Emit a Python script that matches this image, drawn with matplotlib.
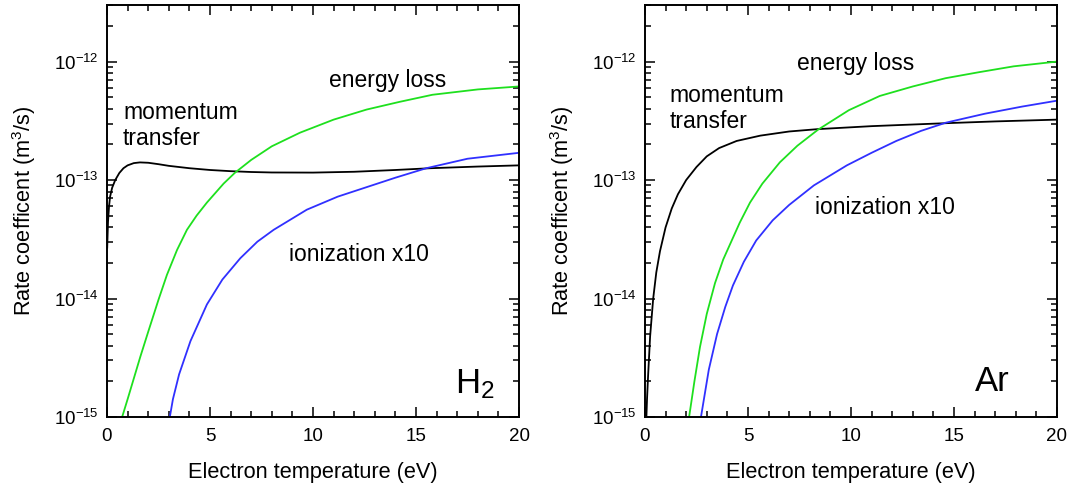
import numpy as np
import matplotlib
matplotlib.use("Agg")
import matplotlib.pyplot as plt
from matplotlib.ticker import FixedLocator, LogLocator, MultipleLocator

plt.rcParams["font.family"] = ["Liberation Sans", "DejaVu Sans"]
plt.rcParams["mathtext.default"] = "regular"

# values: electron temperature (eV) and log10 of rate coefficient (m^3/s)
# H2
h2_mom_T = [0.01, 0.05, 0.1, 0.15, 0.25, 0.4, 0.6, 0.8, 1.0, 1.3, 1.6, 2.0, 2.5, 3.0, 4.0,
            5.0, 6.0, 7.0, 8.0, 10, 12, 14, 15.7, 18, 20]
h2_mom_logk = [-13.57, -13.35, -13.22, -13.14, -13.065, -13.0, -12.94, -12.9, -12.876, -12.857,
               -12.851, -12.854, -12.866, -12.88, -12.9, -12.915, -12.925, -12.932, -12.936,
               -12.937, -12.93, -12.915, -12.9, -12.886, -12.876]
h2_en_T = [0.7, 1.0, 1.62, 2.02, 2.5, 2.91, 3.4, 3.88, 4.35, 4.85, 5.66, 6.2, 7.0, 8.0, 9.37,
           11.0, 12.6, 14.2, 15.8, 18.0, 20]
h2_en_logk = [-15.02, -14.85, -14.49, -14.27, -14.01, -13.80, -13.59, -13.42, -13.30, -13.19,
              -13.03, -12.94, -12.83, -12.715, -12.60, -12.49, -12.405, -12.34, -12.28, -12.235, -12.21]
h2_ion_T = [3.0, 3.2, 3.5, 4.05, 4.85, 5.6, 6.47, 7.3, 8.09, 9.7, 11.2, 12.6, 14.0, 15.5, 17.5, 20]
h2_ion_logk = [-15.05, -14.85, -14.64, -14.36, -14.05, -13.84, -13.66, -13.52, -13.42, -13.25,
               -13.14, -13.06, -12.98, -12.90, -12.82, -12.77]

# Ar
ar_mom_T = [0.05, 0.1, 0.15, 0.25, 0.4, 0.55, 0.73, 1.0, 1.3, 1.6, 2.0, 2.5, 3.0, 3.6, 4.45,
            5.6, 7.0, 8.4, 11, 14.6, 17, 20]
ar_mom_logk = [-15.1, -14.85, -14.66, -14.32, -14.0, -13.78, -13.6, -13.4, -13.24, -13.12,
               -13.0, -12.89, -12.8, -12.73, -12.67, -12.625, -12.59, -12.57, -12.545, -12.52,
               -12.505, -12.49]
ar_en_T = [2.1, 2.4, 2.67, 3.0, 3.4, 3.8, 4.6, 5.1, 5.7, 6.55, 7.4, 8.4, 9.9, 11.4, 13.0,
           14.6, 16.2, 17.9, 20]
ar_en_logk = [-15.05, -14.70, -14.41, -14.13, -13.87, -13.67, -13.36, -13.19, -13.03, -12.85,
              -12.71, -12.575, -12.41, -12.29, -12.21, -12.14, -12.09, -12.04, -12.0]
ar_ion_T = [2.7, 3.1, 3.5, 3.9, 4.27, 4.8, 5.4, 6.2, 7.0, 8.2, 9.8, 11.0, 12.2, 13.4, 14.6,
            16.5, 18.3, 20]
ar_ion_logk = [-15.02, -14.6, -14.3, -14.07, -13.89, -13.69, -13.51, -13.34, -13.21, -13.045,
               -12.876, -12.77, -12.67, -12.585, -12.516, -12.44, -12.38, -12.33]

yticks = [1e-15, 1e-14, 1e-13, 1e-12]

GREEN = "#1ee01e"
BLUE = "#3030ff"

fig = plt.figure(figsize=(10.71, 4.91), dpi=100)
ax1 = fig.add_axes([0.0999, 0.1507, 0.3847, 0.839])
ax2 = fig.add_axes([0.6022, 0.1507, 0.3847, 0.839])


def style(ax):
    ax.set_yscale("log")
    ax.set_xlim(0, 20)
    ax.set_ylim(1e-15, 3e-12)
    ax.xaxis.set_major_locator(MultipleLocator(5))
    ax.xaxis.set_minor_locator(MultipleLocator(1))
    ax.yaxis.set_major_locator(FixedLocator(yticks))
    ax.yaxis.set_minor_locator(LogLocator(base=10, subs=np.arange(2, 10), numticks=20))
    ax.tick_params(which="both", direction="in", top=True, right=True, width=1.1)
    ax.tick_params(which="major", length=7, labelsize=13.5)
    ax.tick_params(axis="x", which="major", pad=8)
    ax.tick_params(axis="y", which="major", pad=6)
    ax.tick_params(which="minor", length=4.5)
    for s in ax.spines.values():
        s.set_linewidth(1.4)
    ax.set_xlabel("Electron temperature (eV)", fontsize=15.7, labelpad=12)
    ax.set_ylabel("Rate coefficent (m$^3$/s)", fontsize=15.7, labelpad=11)


for ax in (ax1, ax2):
    style(ax)

lw = 1.3
ax1.plot(h2_mom_T, 10 ** np.array(h2_mom_logk), color="black", lw=lw)
ax1.plot(h2_en_T, 10 ** np.array(h2_en_logk), color=GREEN, lw=lw)
ax1.plot(h2_ion_T, 10 ** np.array(h2_ion_logk), color=BLUE, lw=lw)
ax1.text(10.8, 6.9e-13, "energy loss", fontsize=16.5, va="center")
ax1.text(0.78, 2.9e-13, "momentum\ntransfer", fontsize=16.5, va="center", linespacing=1.15)
ax1.text(8.83, 2.36e-14, "ionization x10", fontsize=16.5, va="center")
ax1.text(16.9, 1.9e-15, "H$_2$", fontsize=25, va="center")

ax2.plot(ar_mom_T, 10 ** np.array(ar_mom_logk), color="black", lw=lw)
ax2.plot(ar_en_T, 10 ** np.array(ar_en_logk), color=GREEN, lw=lw)
ax2.plot(ar_ion_T, 10 ** np.array(ar_ion_logk), color=BLUE, lw=lw)
ax2.text(7.4, 9.7e-13, "energy loss", fontsize=16.5, va="center")
ax2.text(1.2, 4.0e-13, "momentum\ntransfer", fontsize=16.5, va="center", linespacing=1.15)
ax2.text(8.25, 5.9e-14, "ionization x10", fontsize=16.5, va="center")
ax2.text(16.0, 2.0e-15, "Ar", fontsize=25, va="center")

fig.savefig("out.png", dpi=100, facecolor="white")
